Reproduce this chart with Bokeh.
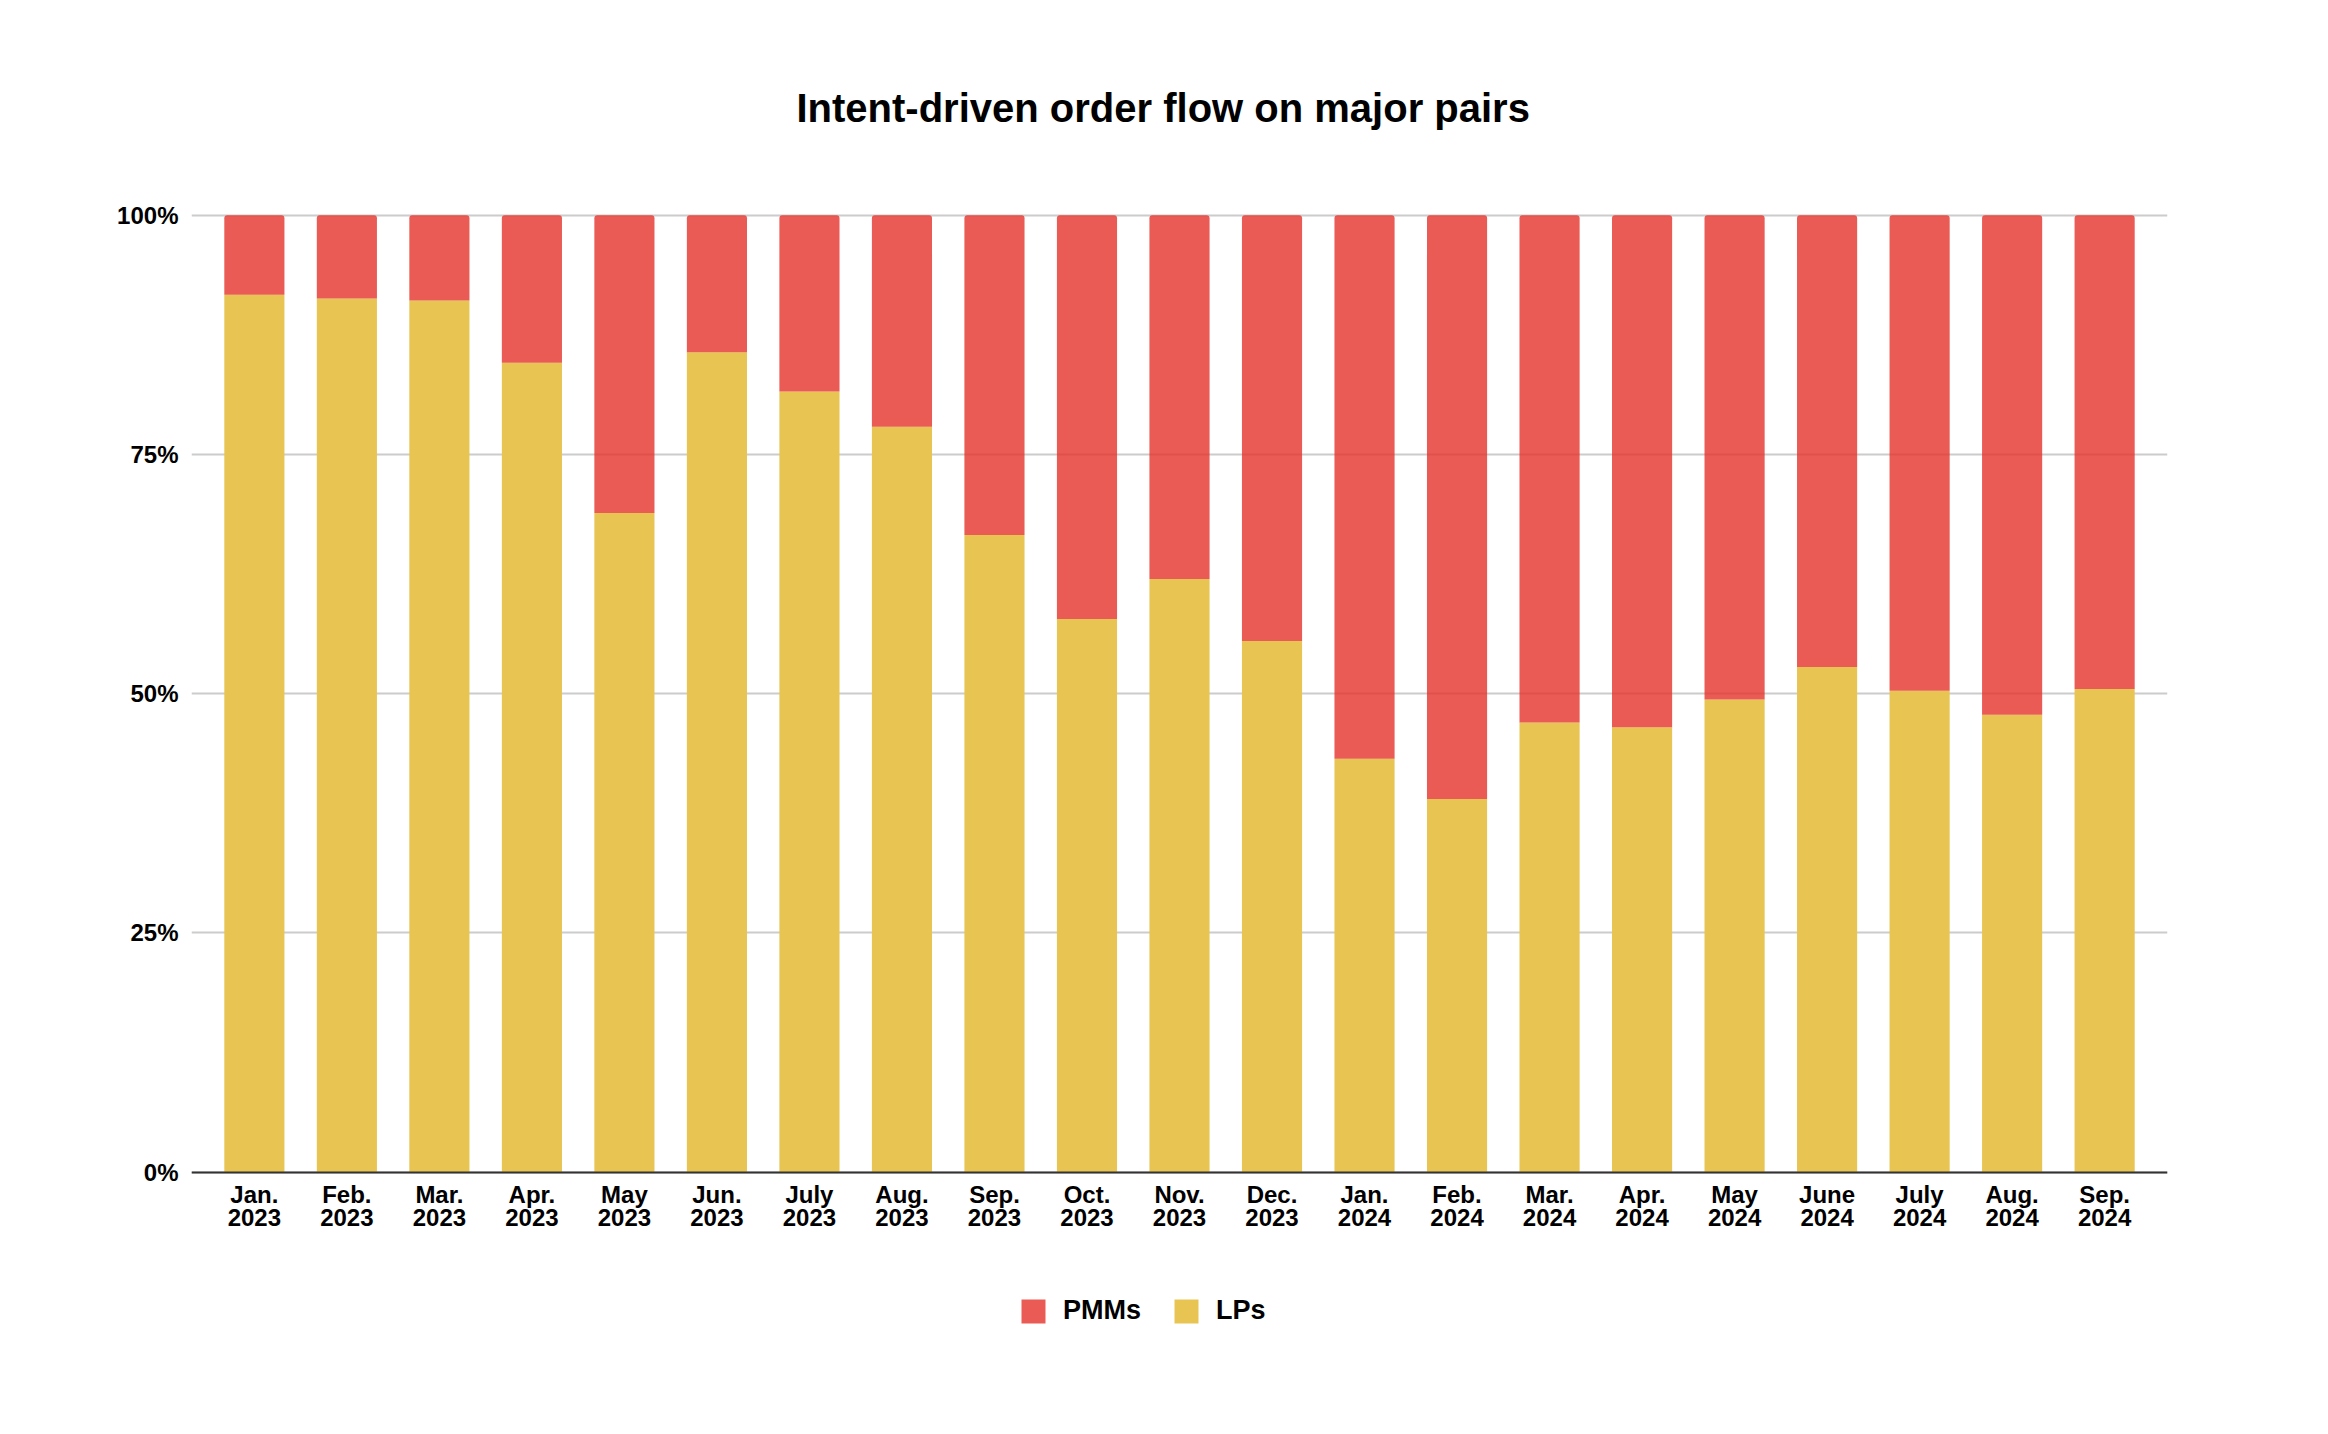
from bokeh.plotting import figure
from bokeh.models import (ColumnDataSource, FactorRange, Range1d, FixedTicker,
                          NumeralTickFormatter, Legend, LegendItem, Title)
from bokeh.transform import stack
from bokeh.embed import file_html
from bokeh.resources import INLINE

# ---- data (percent of order flow) ----
months = ["Jan.\n2023", "Feb.\n2023", "Mar.\n2023", "Apr.\n2023", "May\n2023", "Jun.\n2023",
          "July\n2023", "Aug.\n2023", "Sep.\n2023", "Oct.\n2023", "Nov.\n2023", "Dec.\n2023",
          "Jan.\n2024", "Feb.\n2024", "Mar.\n2024", "Apr.\n2024", "May\n2024", "June\n2024",
          "July\n2024", "Aug.\n2024", "Sep.\n2024"]
lps = [91.7, 91.3, 91.1, 84.6, 68.9, 85.7, 81.6, 77.9, 66.6, 57.8, 62.0, 55.5,
       43.2, 39.0, 47.0, 46.5, 49.4, 52.8, 50.3, 47.8, 50.5]
pmms = [8.3, 8.7, 8.9, 15.4, 31.1, 14.3, 18.4, 22.1, 33.4, 42.2, 38.0, 44.5,
        56.8, 61.0, 53.0, 53.5, 50.6, 47.2, 49.7, 52.2, 49.5]
y_ticks = [0, 0.25, 0.5, 0.75, 1.0]
title_text = "Intent-driven order flow on major pairs"

FONT = "Liberation Sans"
RED = "#E6322A"
YELLOW = "#E8C452"

source = ColumnDataSource(data=dict(
    month=months,
    lp=[v / 100 for v in lps],
    pm=[v / 100 for v in pmms],
))

# frame extends below the zero line so the legend can sit inside it
p = figure(width=2312, height=1418,
           x_range=FactorRange(factors=months, range_padding=0.0171),
           y_range=Range1d(-0.1761, 1.003),
           output_backend="svg", toolbar_location=None,
           min_border_left=191, min_border_right=145,
           min_border_top=212, min_border_bottom=78)

p.outline_line_color = None
p.background_fill_color = "white"
p.border_fill_color = "white"

r_lp = p.vbar(x="month", bottom=0, top="lp", width=0.65, source=source,
              fill_color=YELLOW, line_color=None)
r_pm = p.vbar(x="month", bottom="lp", top=stack("lp", "pm"), width=0.65, source=source,
              fill_color=RED, fill_alpha=0.8, line_color=None,
              border_radius=(3, 3, 0, 0))

# title
p.title = Title(text=title_text, align="left", offset=605, standoff=162,
                vertical_align="top",
                text_font=FONT, text_font_style="bold", text_font_size="40px",
                text_color="#000000")

# axes
p.yaxis.ticker = FixedTicker(ticks=y_ticks)
p.yaxis.formatter = NumeralTickFormatter(format="0%")
p.yaxis.axis_line_color = None
p.yaxis.major_tick_line_color = None
p.yaxis.minor_tick_line_color = None
p.yaxis.major_tick_out = 0
p.yaxis.major_tick_in = 0
p.yaxis.major_label_standoff = 13
p.yaxis.major_label_text_font = FONT
p.yaxis.major_label_text_font_style = "bold"
p.yaxis.major_label_text_font_size = "24px"
p.yaxis.major_label_text_color = "#000000"

p.xaxis.fixed_location = 0
p.xaxis.axis_line_color = "#333333"
p.xaxis.axis_line_width = 2
p.xaxis.major_tick_line_color = None
p.xaxis.minor_tick_line_color = None
p.xaxis.major_tick_out = 0
p.xaxis.major_tick_in = 0
p.xaxis.major_label_standoff = 9
p.xaxis.major_label_text_font = FONT
p.xaxis.major_label_text_font_style = "bold"
p.xaxis.major_label_text_font_size = "24px"
p.xaxis.major_label_text_line_height = 0.85
p.xaxis.major_label_text_color = "#000000"

p.xgrid.grid_line_color = None
p.ygrid.ticker = FixedTicker(ticks=y_ticks)
p.ygrid.grid_line_color = "#cccccc"
p.ygrid.grid_line_width = 2

# legend
legend = Legend(items=[LegendItem(label="PMMs", renderers=[r_pm]),
                       LegendItem(label="LPs", renderers=[r_lp])],
                orientation="horizontal", location=(827, 14), margin=0,
                glyph_width=30, glyph_height=30, label_height=30,
                label_standoff=15, spacing=30, padding=0,
                border_line_color=None, background_fill_alpha=0,
                label_text_font=FONT, label_text_font_style="bold",
                label_text_font_size="27px", label_text_color="#000000")
p.add_layout(legend)

open("out.html", "w").write(file_html(p, INLINE))
